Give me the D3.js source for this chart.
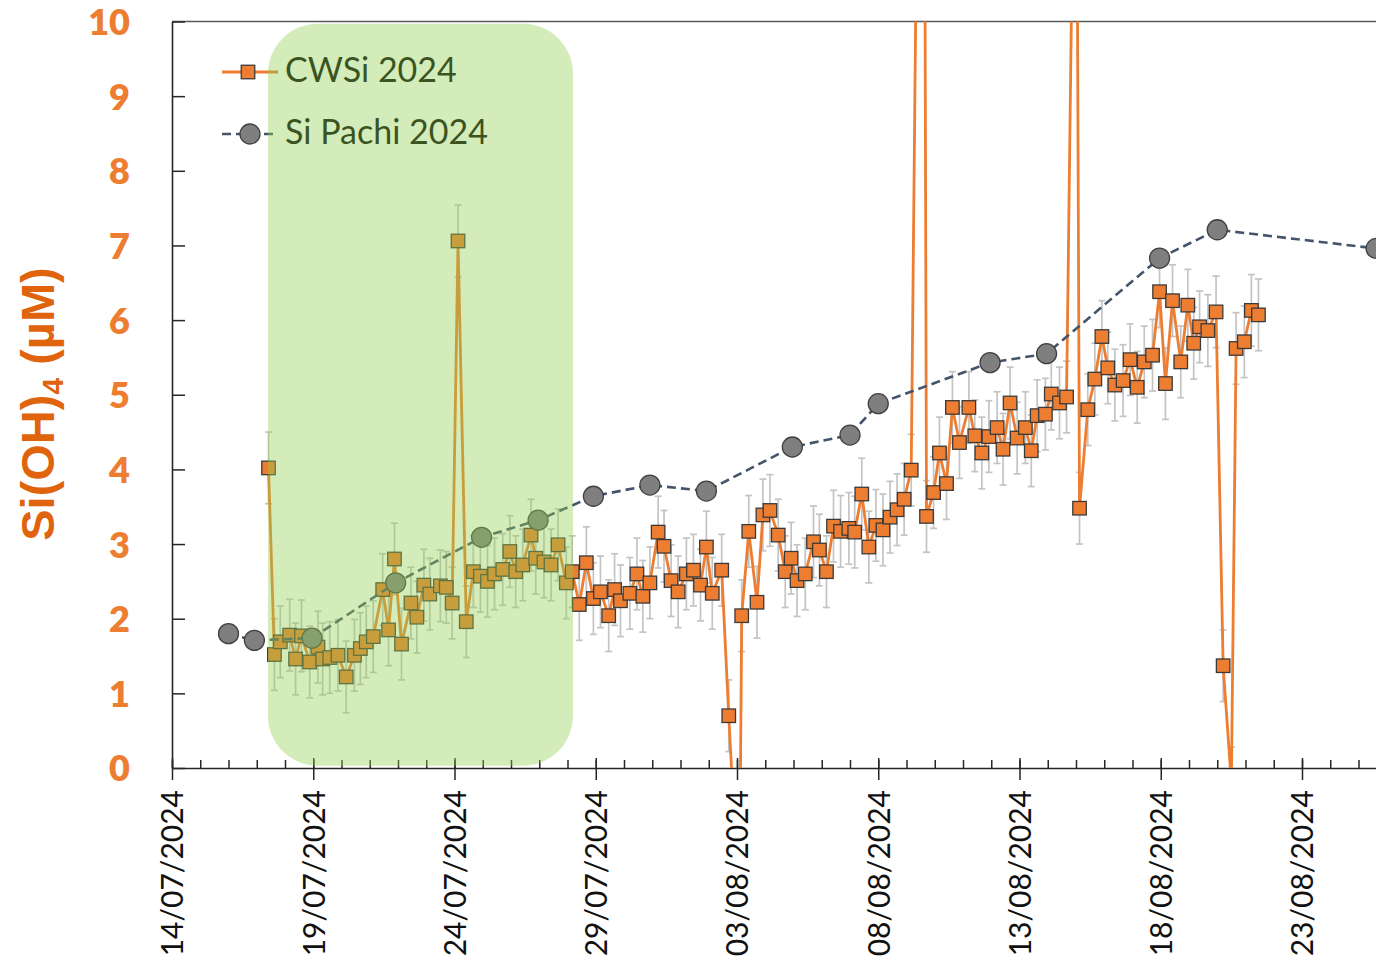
<!DOCTYPE html>
<html>
<head>
<meta charset="utf-8">
<script src="https://cdn.jsdelivr.net/npm/d3@7"></script>
<style>
  html, body { margin: 0; padding: 0; background: #fff; overflow: hidden; }
  text { font-family: Lato, "Open Sans", sans-serif; }
</style>
</head>
<body>
<svg id="chart" width="1376" height="962"></svg>
<script>
// ---- Data -------------------------------------------------------------
// CWSi 2024 sensor record (sample time, Si(OH)4 in µM)
const cwsiTime = [
  "2024-07-17 10","2024-07-17 15","2024-07-17 20",
  "2024-07-18 04","2024-07-18 09","2024-07-18 14","2024-07-18 21",
  "2024-07-19 04","2024-07-19 08","2024-07-19 14","2024-07-19 21",
  "2024-07-20 04","2024-07-20 11","2024-07-20 16","2024-07-20 21",
  "2024-07-21 03","2024-07-21 11","2024-07-21 16","2024-07-21 21",
  "2024-07-22 03","2024-07-22 11","2024-07-22 16","2024-07-22 22",
  "2024-07-23 03","2024-07-23 12","2024-07-23 17","2024-07-23 22",
  "2024-07-24 03","2024-07-24 10","2024-07-24 16","2024-07-24 22",
  "2024-07-25 04","2024-07-25 10","2024-07-25 17","2024-07-25 23",
  "2024-07-26 04","2024-07-26 10","2024-07-26 17","2024-07-26 21",
  "2024-07-27 04","2024-07-27 10","2024-07-27 16","2024-07-27 23",
  "2024-07-28 04","2024-07-28 10","2024-07-28 16","2024-07-28 22",
  "2024-07-29 04","2024-07-29 11","2024-07-29 16","2024-07-29 21",
  "2024-07-30 05","2024-07-30 11","2024-07-30 16","2024-07-30 22",
  "2024-07-31 05","2024-07-31 10","2024-07-31 16","2024-07-31 22",
  "2024-08-01 05","2024-08-01 11","2024-08-01 17","2024-08-01 22",
  "2024-08-02 03","2024-08-02 11","2024-08-02 17",
  "2024-08-03 02","2024-08-03 04","2024-08-03 10","2024-08-03 17","2024-08-03 22",
  "2024-08-04 04","2024-08-04 11","2024-08-04 17","2024-08-04 22",
  "2024-08-05 03","2024-08-05 10","2024-08-05 17","2024-08-05 22",
  "2024-08-06 04","2024-08-06 10","2024-08-06 16","2024-08-06 23",
  "2024-08-07 04","2024-08-07 10","2024-08-07 16","2024-08-07 22",
  "2024-08-08 04","2024-08-08 10","2024-08-08 16","2024-08-08 22",
  "2024-08-09 04","2024-08-09 14","2024-08-09 17","2024-08-09 23",
  "2024-08-10 04","2024-08-10 10","2024-08-10 15","2024-08-10 21",
  "2024-08-11 05","2024-08-11 10","2024-08-11 16","2024-08-11 22",
  "2024-08-12 05","2024-08-12 10","2024-08-12 16","2024-08-12 22",
  "2024-08-13 05","2024-08-13 10","2024-08-13 15","2024-08-13 22",
  "2024-08-14 03","2024-08-14 10","2024-08-14 16",
  "2024-08-15 00","2024-08-15 03","2024-08-15 10","2024-08-15 16","2024-08-15 22",
  "2024-08-16 03","2024-08-16 09","2024-08-16 16","2024-08-16 22",
  "2024-08-17 04","2024-08-17 10","2024-08-17 17","2024-08-17 23",
  "2024-08-18 04","2024-08-18 10","2024-08-18 17","2024-08-18 23",
  "2024-08-19 04","2024-08-19 09","2024-08-19 16","2024-08-19 23",
  "2024-08-20 05","2024-08-20 12","2024-08-20 16","2024-08-20 23",
  "2024-08-21 05","2024-08-21 11"
];
const cwsiValue = [
  4.02, 1.52, 1.69,
  1.78, 1.46, 1.77, 1.42,
  1.62, 1.46, 1.48, 1.51,
  1.22, 1.51, 1.60, 1.69,
  1.76, 2.39, 1.85, 2.80,
  1.66, 2.21, 2.02, 2.45,
  2.33, 2.44, 2.42, 2.21,
  7.06, 1.96, 2.63, 2.57,
  2.50, 2.60, 2.66, 2.90,
  2.63, 2.72, 3.12, 2.81,
  2.76, 2.72, 2.99, 2.48,
  2.63, 2.19, 2.75, 2.27,
  2.36, 2.04, 2.39, 2.24,
  2.34, 2.60, 2.30, 2.48,
  3.16, 2.97, 2.51, 2.36,
  2.60, 2.65, 2.45, 2.96,
  2.34, 2.65, 0.70,
  -2.0, 2.04, 3.17, 2.22, 3.39,
  3.45, 3.12, 2.63, 2.81,
  2.51, 2.60, 3.03, 2.92,
  2.63, 3.24, 3.17, 3.21,
  3.16, 3.67, 2.96, 3.25,
  3.19, 3.36, 3.46, 3.60,
  3.99, 20.0, 3.37, 3.69,
  4.22, 3.81, 4.83, 4.36,
  4.83, 4.45, 4.22, 4.44,
  4.56, 4.27, 4.89, 4.42,
  4.56, 4.25, 4.72, 4.74,
  5.01, 4.89, 4.97,
  15.0, 3.48, 4.80, 5.21, 5.78,
  5.36, 5.13, 5.19, 5.47,
  5.10, 5.44, 5.53, 6.38,
  5.15, 6.26, 5.44, 6.20,
  5.69, 5.91, 5.86, 6.11,
  1.37, -0.2, 5.62, 5.71,
  6.13, 6.07
];
const cwsiError = 0.48;   // ± uncertainty on each CWSi reading

// Si Pachi 2024 reference samples
const pachiTime = [
  "2024-07-16 00","2024-07-16 22","2024-07-18 23","2024-07-21 22",
  "2024-07-24 23","2024-07-26 23","2024-07-28 22","2024-07-30 22",
  "2024-08-01 22","2024-08-04 23","2024-08-07 00","2024-08-08 00",
  "2024-08-11 23","2024-08-13 23","2024-08-17 23","2024-08-20 00",
  "2024-08-25 15"
];
const pachiValue = [
  1.80, 1.71, 1.74, 2.48,
  3.09, 3.32, 3.64, 3.79,
  3.71, 4.30, 4.46, 4.88,
  5.43, 5.55, 6.83, 7.21,
  6.96
];

const seriesNames = ["CWSi 2024", "Si Pachi 2024"];
const yTicks = [0, 1, 2, 3, 4, 5, 6, 7, 8, 9, 10];
const xStart = "2024-07-14 00";
const xEnd = "2024-08-26 00";
// shaded period
const shadeFrom = "2024-07-17 09:30";
const shadeTo = "2024-07-28 04:40";

// ---- Setup ------------------------------------------------------------
const parseH = d3.timeParse("%Y-%m-%d %H");
const parseHM = d3.timeParse("%Y-%m-%d %H:%M");
const svg = d3.select("#chart");

const dayPx = 28.25;
const x0 = 172;
const x = d3.scaleTime()
  .domain([parseH(xStart), parseH(xEnd)])
  .range([x0, x0 + 43 * dayPx]);
const y = d3.scaleLinear().domain([0, 10]).range([768, 21.5]);

const cwsi = cwsiTime.map((t, i) => ({ t: parseH(t), v: cwsiValue[i] }));
const pachi = pachiTime.map((t, i) => ({ t: parseH(t), v: pachiValue[i] }));

const ORANGE = "#ED7D31";
const EDGE = "#3a3a3a";

svg.append("defs").append("clipPath").attr("id", "plotClip")
  .append("rect")
  .attr("x", x0).attr("y", y(10))
  .attr("width", 1400).attr("height", y(0) - y(10));

// ---- Frame and axes ---------------------------------------------------
svg.append("line")
  .attr("x1", x0).attr("x2", 1400)
  .attr("y1", y(10)).attr("y2", y(10))
  .attr("stroke", "#595959").attr("stroke-width", 1.6);

const days = d3.timeDay.range(parseH(xStart), d3.timeDay.offset(parseH(xEnd), 1));
const majors = days.filter((d, i) => i % 5 === 0);

// daily minor ticks (inside)
const minorAx = svg.append("g").attr("transform", `translate(0,${y(0)})`)
  .call(d3.axisTop(x).tickValues(days).tickSize(8).tickFormat(""));
minorAx.select(".domain").remove();
// major ticks, inner part
const majorUp = svg.append("g").attr("transform", `translate(0,${y(0)})`)
  .call(d3.axisTop(x).tickValues(majors).tickSize(10).tickFormat(""));
majorUp.select(".domain").remove();
// major ticks, outer part with date labels
const xAx = svg.append("g").attr("transform", `translate(0,${y(0)})`)
  .call(d3.axisBottom(x).tickValues(majors).tickSize(12).tickSizeOuter(0)
    .tickFormat(d3.timeFormat("%d/%m/%Y")));
xAx.selectAll("text")
  .attr("transform", "rotate(-90)")
  .attr("text-anchor", "end")
  .attr("x", -22).attr("y", 0).attr("dy", "0.36em")
  .attr("font-size", 30).attr("fill", "#111");

[minorAx, majorUp, xAx].forEach(g => {
  g.selectAll("line").attr("stroke", "#262626").attr("stroke-width", 1.5);
  g.select(".domain").attr("stroke", "#262626").attr("stroke-width", 1.6);
});

const yAx = svg.append("g").attr("transform", `translate(${x0},0)`)
  .call(d3.axisLeft(y).tickValues(yTicks).tickSize(-13).tickSizeOuter(0).tickPadding(42));
yAx.select(".domain").attr("stroke", "#262626").attr("stroke-width", 1.6);
yAx.selectAll("line").attr("stroke", "#262626").attr("stroke-width", 1.5);
yAx.selectAll("text")
  .attr("font-size", 36).attr("font-weight", 800).attr("fill", ORANGE)
  .attr("dy", "0.36em");

// y-axis title
const yTitle = svg.append("text")
  .attr("transform", `translate(54,${404}) rotate(-90)`)
  .attr("text-anchor", "middle")
  .style("font-family", "'Liberation Sans', Arial, sans-serif")
  .attr("font-size", 47).attr("font-weight", 700).attr("fill", "#E0640E");
yTitle.append("tspan").text("Si(OH)");
yTitle.append("tspan").attr("font-size", 30).attr("dy", 9).text("4");
yTitle.append("tspan").attr("dy", -9).text(" (µM)");

// ---- CWSi series ------------------------------------------------------
const plot = svg.append("g").attr("clip-path", "url(#plotClip)");

const eb = plot.append("g").attr("stroke", "#c4c4c4").attr("stroke-width", 1.7);
cwsi.forEach(d => {
  const cx = x(d.t), top = y(d.v + cwsiError), bot = y(d.v - cwsiError);
  eb.append("line").attr("x1", cx).attr("x2", cx).attr("y1", top).attr("y2", bot);
  eb.append("line").attr("x1", cx - 3.5).attr("x2", cx + 3.5).attr("y1", top).attr("y2", top);
  eb.append("line").attr("x1", cx - 3.5).attr("x2", cx + 3.5).attr("y1", bot).attr("y2", bot);
});

const line = d3.line().x(d => x(d.t)).y(d => y(d.v));
plot.append("path").datum(cwsi)
  .attr("d", line).attr("fill", "none")
  .attr("stroke", ORANGE).attr("stroke-width", 2.8).attr("stroke-linejoin", "round");

const SQ = 13.5;
plot.append("g").selectAll("rect").data(cwsi).join("rect")
  .attr("x", d => x(d.t) - SQ / 2).attr("y", d => y(d.v) - SQ / 2)
  .attr("width", SQ).attr("height", SQ)
  .attr("fill", ORANGE).attr("stroke", EDGE).attr("stroke-width", 1.3);

// ---- Si Pachi series ----------------------------------------------------
plot.append("path").datum(pachi)
  .attr("d", line).attr("fill", "none")
  .attr("stroke", "#44546A").attr("stroke-width", 2.6).attr("stroke-dasharray", "9,5");
plot.append("g").selectAll("circle").data(pachi).join("circle")
  .attr("cx", d => x(d.t)).attr("cy", d => y(d.v)).attr("r", 10)
  .attr("fill", "#7F7F7F").attr("stroke", "#404040").attr("stroke-width", 1.3);

// ---- Legend -------------------------------------------------------------
const lg = svg.append("g");
lg.append("line").attr("x1", 222).attr("x2", 278).attr("y1", 72).attr("y2", 72)
  .attr("stroke", ORANGE).attr("stroke-width", 2.8);
lg.append("rect").attr("x", 248 - SQ / 2).attr("y", 72 - SQ / 2).attr("width", SQ).attr("height", SQ)
  .attr("fill", ORANGE).attr("stroke", EDGE).attr("stroke-width", 1.3);
lg.append("text").attr("x", 285).attr("y", 82).attr("font-size", 34).attr("fill", "#000")
  .text(seriesNames[0]);

lg.append("line").attr("x1", 222).attr("x2", 278).attr("y1", 134).attr("y2", 134)
  .attr("stroke", "#44546A").attr("stroke-width", 2.6).attr("stroke-dasharray", "9,5");
lg.append("circle").attr("cx", 250).attr("cy", 134).attr("r", 10)
  .attr("fill", "#7F7F7F").attr("stroke", "#404040").attr("stroke-width", 1.3);
lg.append("text").attr("x", 285).attr("y", 144).attr("font-size", 34).attr("fill", "#000")
  .text(seriesNames[1]);

// ---- Highlighted period (translucent green panel on top) ---------------
const sx0 = x(parseHM(shadeFrom)), sx1 = x(parseHM(shadeTo));
svg.append("rect")
  .attr("x", sx0).attr("y", y(9.97))
  .attr("width", sx1 - sx0).attr("height", y(0.03) - y(9.97))
  .attr("rx", 50).attr("ry", 50)
  .attr("fill", "#92D050").attr("opacity", 0.4);
</script>
</body>
</html>
